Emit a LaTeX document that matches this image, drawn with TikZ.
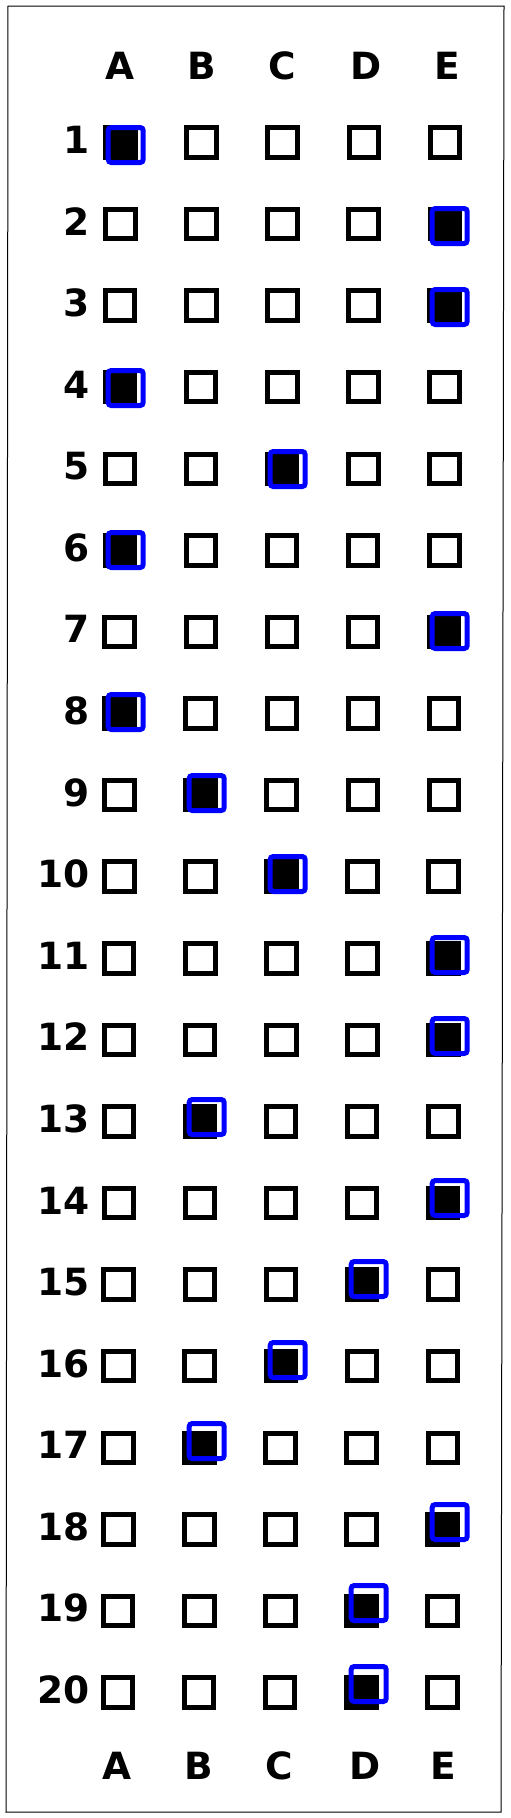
\documentclass[tikz,border=0pt]{standalone}
\usepackage{fontspec}
\setmainfont{DejaVu Sans}
\definecolor{markblue}{RGB}{0,0,255}
\tikzset{
  cell/.style={draw=black, line width=5pt, minimum size=29.5pt, inner sep=0pt, outer sep=0pt},
  answerbox/.style={draw=markblue, line width=5pt, minimum size=35pt, rounded corners=3pt, inner sep=0pt, outer sep=0pt},
  lettertext/.style={font=\fontsize{37.5}{40}\selectfont\bfseries, inner sep=0pt, anchor=base},
  numtext/.style={font=\fontsize{37.5}{40}\selectfont\bfseries, inner sep=0pt, anchor=base east},
  frameline/.style={draw=black, line width=1pt}
}
\begin{document}
\begin{tikzpicture}[x=1pt,y=-1pt]
\useasboundingbox (0,0) rectangle (511,1818);
\fill[white] (0,0) rectangle (511,1818);
% outer frame
\draw[frameline] (8,6) -- (504,6) -- (501,1812) -- (6,1812) -- cycle;
% column letters
\foreach \L/\x in {A/120,B/201.7,C/282,D/366,E/447}
  \node[lettertext] (top-\L) at (\x,79) {\L};
\foreach \L/\x in {A/117.5,B/198.5,C/279.5,D/365,E/443.5}
  \node[lettertext] (bot-\L) at (\x,1779) {\L};
% grid of boxes and row numbers
\foreach \k in {1,...,20} {
  \pgfmathsetmacro{\by}{142.5+81.58*(\k-1)}
  \foreach \c in {0,...,4} {
    \pgfmathsetmacro{\bx}{120.5+81.1*\c-0.13*(\k-1)}
    \node[cell] (b-\k-\c) at (\bx,\by) {};
  }
  \node[numtext] (n-\k) at (90,\by+11) {\k};
}
% answers
\foreach \k/\a in {1/0,2/4,3/4,4/0,5/2,6/0,7/4,8/0,9/1,10/2,11/4,12/4,13/1,14/4,15/3,16/2,17/1,18/4,19/3,20/3} {
  \fill[black] (b-\k-\a.south west) rectangle (b-\k-\a.north east);
  \pgfmathsetmacro{\my}{145+81*(\k-1)}
  \pgfmathsetmacro{\mx}{125.7+81*\a}
  \node[answerbox] (m-\k) at (\mx,\my) {};
}
\end{tikzpicture}
\end{document}
